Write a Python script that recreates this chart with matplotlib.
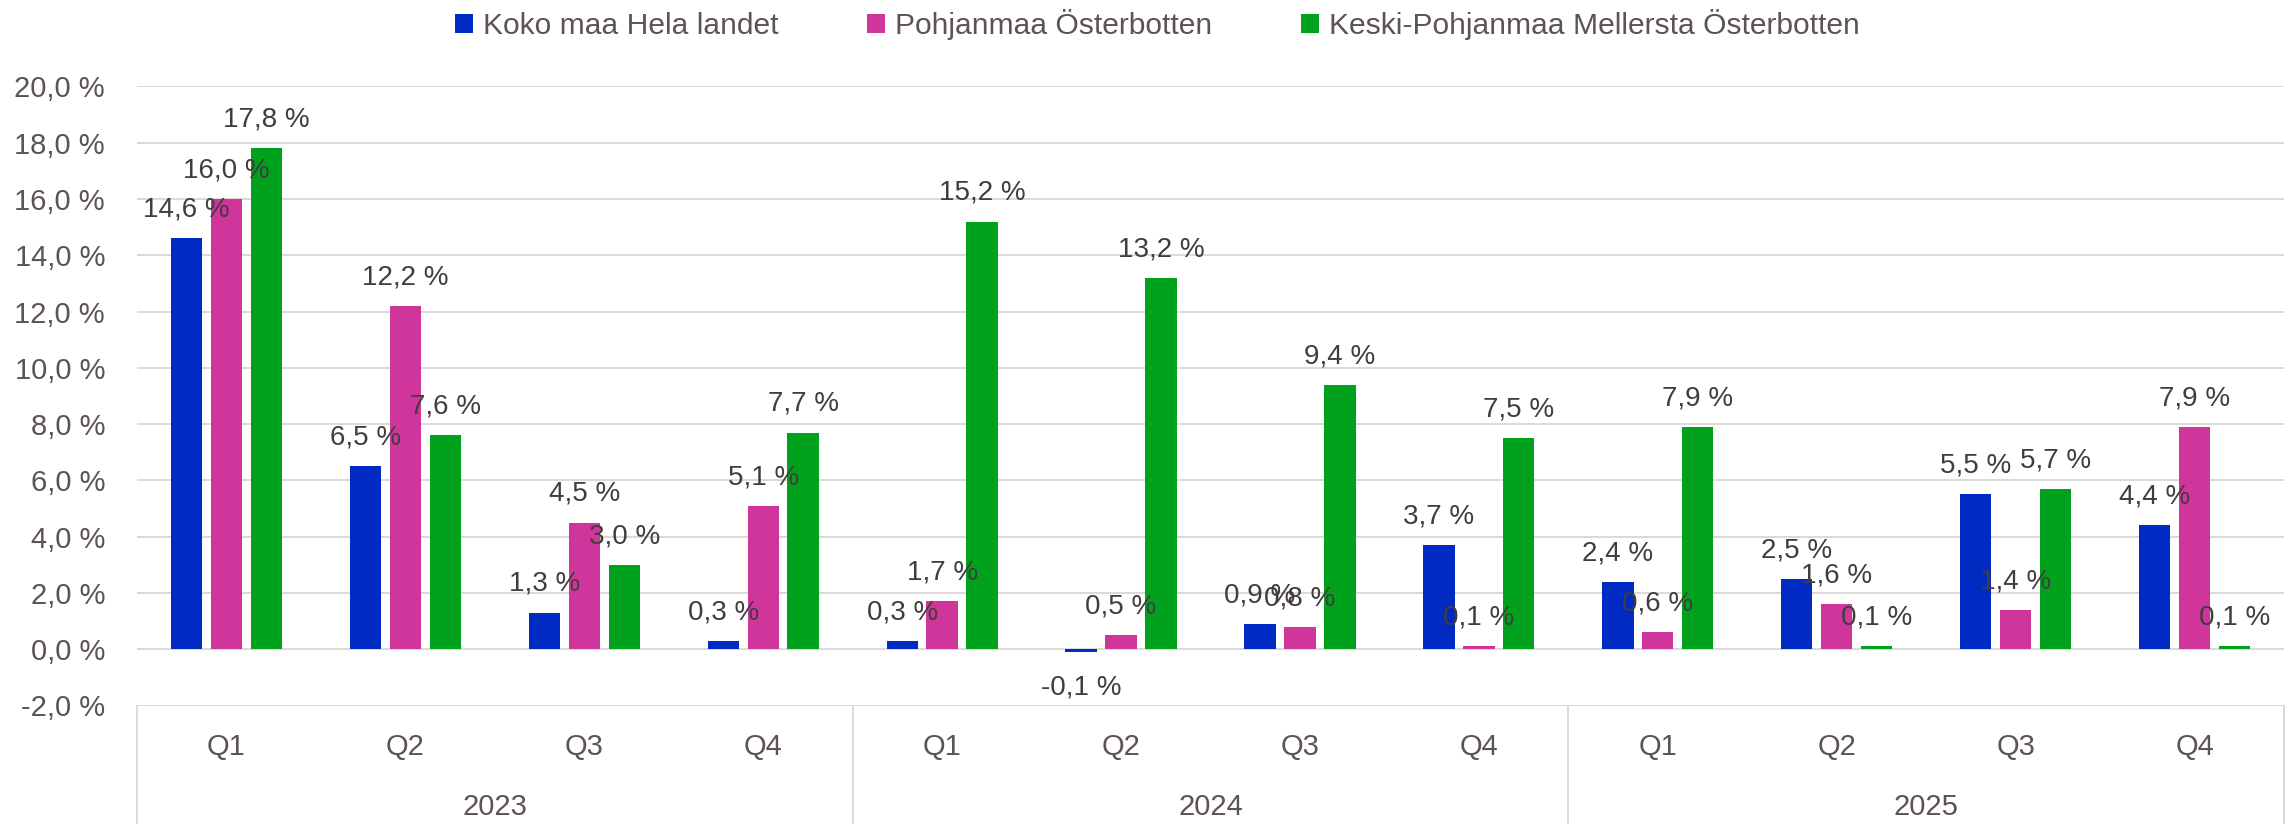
import matplotlib
matplotlib.use("Agg")
import matplotlib.pyplot as plt
import numpy as np
from matplotlib.transforms import blended_transform_factory

plt.rcParams["font.family"] = ["Liberation Sans", "DejaVu Sans"]

# Quarterly change, per cent
years = ["2023", "2024", "2025"]
quarters = ["Q1", "Q2", "Q3", "Q4"]
series_names = [
    "Koko maa Hela landet",
    "Pohjanmaa Österbotten",
    "Keski-Pohjanmaa Mellersta Österbotten",
]
koko_maa = [14.6, 6.5, 1.3, 0.3, 0.3, -0.1, 0.9, 3.7, 2.4, 2.5, 5.5, 4.4]
pohjanmaa = [16.0, 12.2, 4.5, 5.1, 1.7, 0.5, 0.8, 0.1, 0.6, 1.6, 1.4, 7.9]
keski_pohjanmaa = [17.8, 7.6, 3.0, 7.7, 15.2, 13.2, 9.4, 7.5, 7.9, 0.1, 5.7, 0.1]
y_ticks = [-2, 0, 2, 4, 6, 8, 10, 12, 14, 16, 18, 20]

colors = ["#002BC2", "#D0359C", "#00A21D"]
grid_color = "#D9D5D5"
axis_text = "#5E5353"
label_text = "#433C3C"


def pct(v):
    return f"{v:.1f} %".replace(".", ",")


W, H = 2290, 824
fig = plt.figure(figsize=(W / 100, H / 100), dpi=100)
ax = fig.add_axes([137 / W, 1 - 705.5 / H, (2284 - 137) / W, (705.5 - 86.5) / H])

n = len(years) * len(quarters)
x = np.arange(n)
width = 0.175
pitch = 0.223

handles = []
for i, (vals, name, col) in enumerate(
    zip([koko_maa, pohjanmaa, keski_pohjanmaa], series_names, colors)
):
    xs = x + (i - 1) * pitch
    bars = ax.bar(xs, vals, width, color=col, label=name, zorder=3)
    handles.append(bars)
    for xi, v in zip(xs, vals):
        off = 21.7 * 0.72 if v >= 0 else -42.6 * 0.72
        ax.annotate(pct(v), (xi, v), xytext=(0, off), textcoords="offset points",
                    ha="center", va="baseline", fontsize=20, color=label_text,
                    zorder=5)

ax.set_xlim(-0.5, n - 0.5)
ax.set_ylim(-2, 20)
ax.set_yticks(y_ticks)
ax.set_yticklabels([pct(t) for t in y_ticks])
ax.yaxis.grid(True, color=grid_color, linewidth=1.3, zorder=0)
ax.set_axisbelow(True)
for s in ax.spines.values():
    s.set_visible(False)
ax.tick_params(axis="y", length=0, pad=23, labelsize=21, labelcolor=axis_text)
ax.set_xticks([])

# Two-level category axis below the plot
trans = blended_transform_factory(ax.transData, ax.transAxes)
for xi, q in zip(x, quarters * len(years)):
    ax.text(xi, -0.0666, q, transform=trans, ha="center", va="center",
            fontsize=21, color=axis_text)
for k, yr in enumerate(years):
    ax.text(k * 4 + 1.5, -0.1635, yr, transform=trans, ha="center", va="center",
            fontsize=21, color=axis_text)
for xs in [-0.5, 3.5, 7.5, 11.5]:
    ax.plot([xs, xs], [0, -0.25], transform=trans, color=grid_color,
            linewidth=1.3, clip_on=False)

fig.legend(handles=handles, labels=series_names, loc="center",
           bbox_to_anchor=(1157.5 / W, 1 - 25 / H), ncol=3, frameon=False,
           fontsize=21.6, labelcolor=axis_text, handlelength=0.6,
           handleheight=0.6, handletextpad=0.33, columnspacing=2.95,
           borderaxespad=0)

fig.savefig("out.png", dpi=100)
